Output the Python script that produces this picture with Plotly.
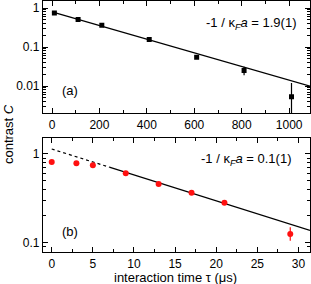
import numpy as np
import plotly.graph_objects as go

# ---- data ----
top_x = [10, 110, 210, 410, 610, 810, 1010]
top_y = [0.75, 0.51, 0.36, 0.155, 0.055, 0.025, 0.0053]
top_err_plus = [0.03, 0.02, 0.015, 0.008, 0.004, 0.006, 0.0067]
top_err_minus = [0.03, 0.02, 0.015, 0.008, 0.004, 0.006, 0.0051]

bot_x = [0, 3, 5, 9, 13, 17, 21, 29]
bot_y = [0.81, 0.785, 0.745, 0.605, 0.46, 0.366, 0.282, 0.125]
bot_err_plus = [0.02, 0.02, 0.02, 0.015, 0.012, 0.01, 0.008, 0.024]
bot_err_minus = [0.02, 0.02, 0.02, 0.015, 0.012, 0.01, 0.008, 0.02]

# exponential fits: log10(C) = a + b * t
top_fit_a, top_fit_b = -0.10, -0.00175
top_fit_range = [0, 1088]
bot_fit_a, bot_fit_b = 0.056, -0.0292
bot_dotted_range = [0, 7]
bot_solid_range = [7, 31.4]

top_xticks = [0, 200, 400, 600, 800, 1000]
bot_xticks = [0, 5, 10, 15, 20, 25, 30]
top_yticks = [0.01, 0.1, 1]
top_ytick_text = ["0.01", "0.1", "1"]
bot_yticks = [0.1, 1]
bot_ytick_text = ["0.1", "1"]

label_top = "-1 / κ<sub><i>F</i></sub><i>a</i> = 1.9(1)"
label_bot = "-1 / κ<sub><i>F</i></sub><i>a</i> = 0.1(1)"
x_title = "interaction time τ (μs)"
y_title = "contrast <i>C</i>"


def fit_line(a, b, rng):
    xs = np.linspace(rng[0], rng[1], 50)
    return xs, 10 ** (a + b * xs)


FONT = "Liberation Sans, Arial, sans-serif"
fig = go.Figure()

# top panel
fx, fy = fit_line(top_fit_a, top_fit_b, top_fit_range)
fig.add_trace(go.Scatter(x=fx, y=fy, mode="lines", line=dict(color="black", width=1.2),
                         xaxis="x", yaxis="y", showlegend=False, hoverinfo="skip"))
fig.add_trace(go.Scatter(x=top_x, y=top_y, mode="markers",
                         marker=dict(symbol="square", size=5, color="black"),
                         error_y=dict(type="data", symmetric=False, array=top_err_plus,
                                      arrayminus=top_err_minus, color="black",
                                      thickness=1.2, width=0),
                         xaxis="x", yaxis="y", showlegend=False))

# bottom panel
dx, dy = fit_line(bot_fit_a, bot_fit_b, bot_dotted_range)
fig.add_trace(go.Scatter(x=dx, y=dy, mode="lines",
                         line=dict(color="black", width=1.2, dash="dot"),
                         xaxis="x2", yaxis="y2", showlegend=False, hoverinfo="skip"))
sx, sy = fit_line(bot_fit_a, bot_fit_b, bot_solid_range)
fig.add_trace(go.Scatter(x=sx, y=sy, mode="lines", line=dict(color="black", width=1.2),
                         xaxis="x2", yaxis="y2", showlegend=False, hoverinfo="skip"))
fig.add_trace(go.Scatter(x=bot_x, y=bot_y, mode="markers",
                         marker=dict(symbol="circle", size=6, color="#ff1010"),
                         error_y=dict(type="data", symmetric=False, array=bot_err_plus,
                                      arrayminus=bot_err_minus, color="#ff1010",
                                      thickness=1.2, width=0),
                         xaxis="x2", yaxis="y2", showlegend=False))


def minor_vals(decades):
    vals = []
    for d in decades:
        for m in range(2, 10):
            vals.append(m * 10.0 ** d)
    return vals


axis_common = dict(showline=True, linecolor="black", linewidth=1.2, mirror="ticks",
                   ticks="inside", ticklen=5, tickwidth=1, tickcolor="black",
                   showgrid=False, zeroline=False, automargin=False,
                   tickfont=dict(family=FONT, size=12, color="black"))

ann_font = dict(family=FONT, size=13, color="black")

fig.update_layout(
    width=311, height=284,
    margin=dict(l=43, r=1, t=1, b=32),
    paper_bgcolor="white", plot_bgcolor="white",
    font=dict(family=FONT, size=12, color="black"),
    xaxis=dict(domain=[0, 1], anchor="y", range=[-38, 1088], tickmode="array",
               tickvals=top_xticks,
               minor=dict(ticks="inside", ticklen=3, tickcolor="black", dtick=100, tick0=0),
               **axis_common),
    yaxis=dict(domain=[0.5526, 1], anchor="x", type="log", range=[-2.70, 0.18],
               tickmode="array", tickvals=top_yticks, ticktext=top_ytick_text,
               minor=dict(ticks="inside", ticklen=3, tickcolor="black",
                          tickmode="array", tickvals=minor_vals([-3, -2, -1, 0])),
               **axis_common),
    xaxis2=dict(domain=[0, 1], anchor="y2", range=[-1.06, 31.4], tickmode="array",
                tickvals=bot_xticks,
                minor=dict(ticks="inside", ticklen=3, tickcolor="black", dtick=2.5, tick0=0),
                **axis_common),
    yaxis2=dict(domain=[0, 0.453], anchor="x2", type="log", range=[-1.105, 0.177],
                tickmode="array", tickvals=bot_yticks, ticktext=bot_ytick_text,
                minor=dict(ticks="inside", ticklen=3, tickcolor="black",
                           tickmode="array", tickvals=minor_vals([-2, -1, 0])),
                **axis_common),
    annotations=[
        dict(text=label_top, xref="paper", yref="paper", x=0.955, y=0.912,
             xanchor="right", yanchor="middle", showarrow=False, font=ann_font),
        dict(text="(a)", xref="paper", yref="paper", x=0.062, y=0.645,
             xanchor="left", yanchor="middle", showarrow=False, font=ann_font),
        dict(text=label_bot, xref="paper", yref="paper", x=0.937, y=0.367,
             xanchor="right", yanchor="middle", showarrow=False, font=ann_font),
        dict(text="(b)", xref="paper", yref="paper", x=0.062, y=0.08,
             xanchor="left", yanchor="middle", showarrow=False, font=ann_font),
        dict(text=y_title, xref="paper", yref="paper", x=-0.131, y=0.47,
             xanchor="center", yanchor="middle", textangle=-90, showarrow=False,
             font=ann_font),
        dict(text=x_title, xref="paper", yref="paper", x=0.495, y=-0.103,
             xanchor="center", yanchor="middle", showarrow=False, font=ann_font),
    ],
)

fig.write_html("out.html", config={"displayModeBar": False},
               post_script="document.body.style.margin='0';document.body.style.overflow='hidden';")
